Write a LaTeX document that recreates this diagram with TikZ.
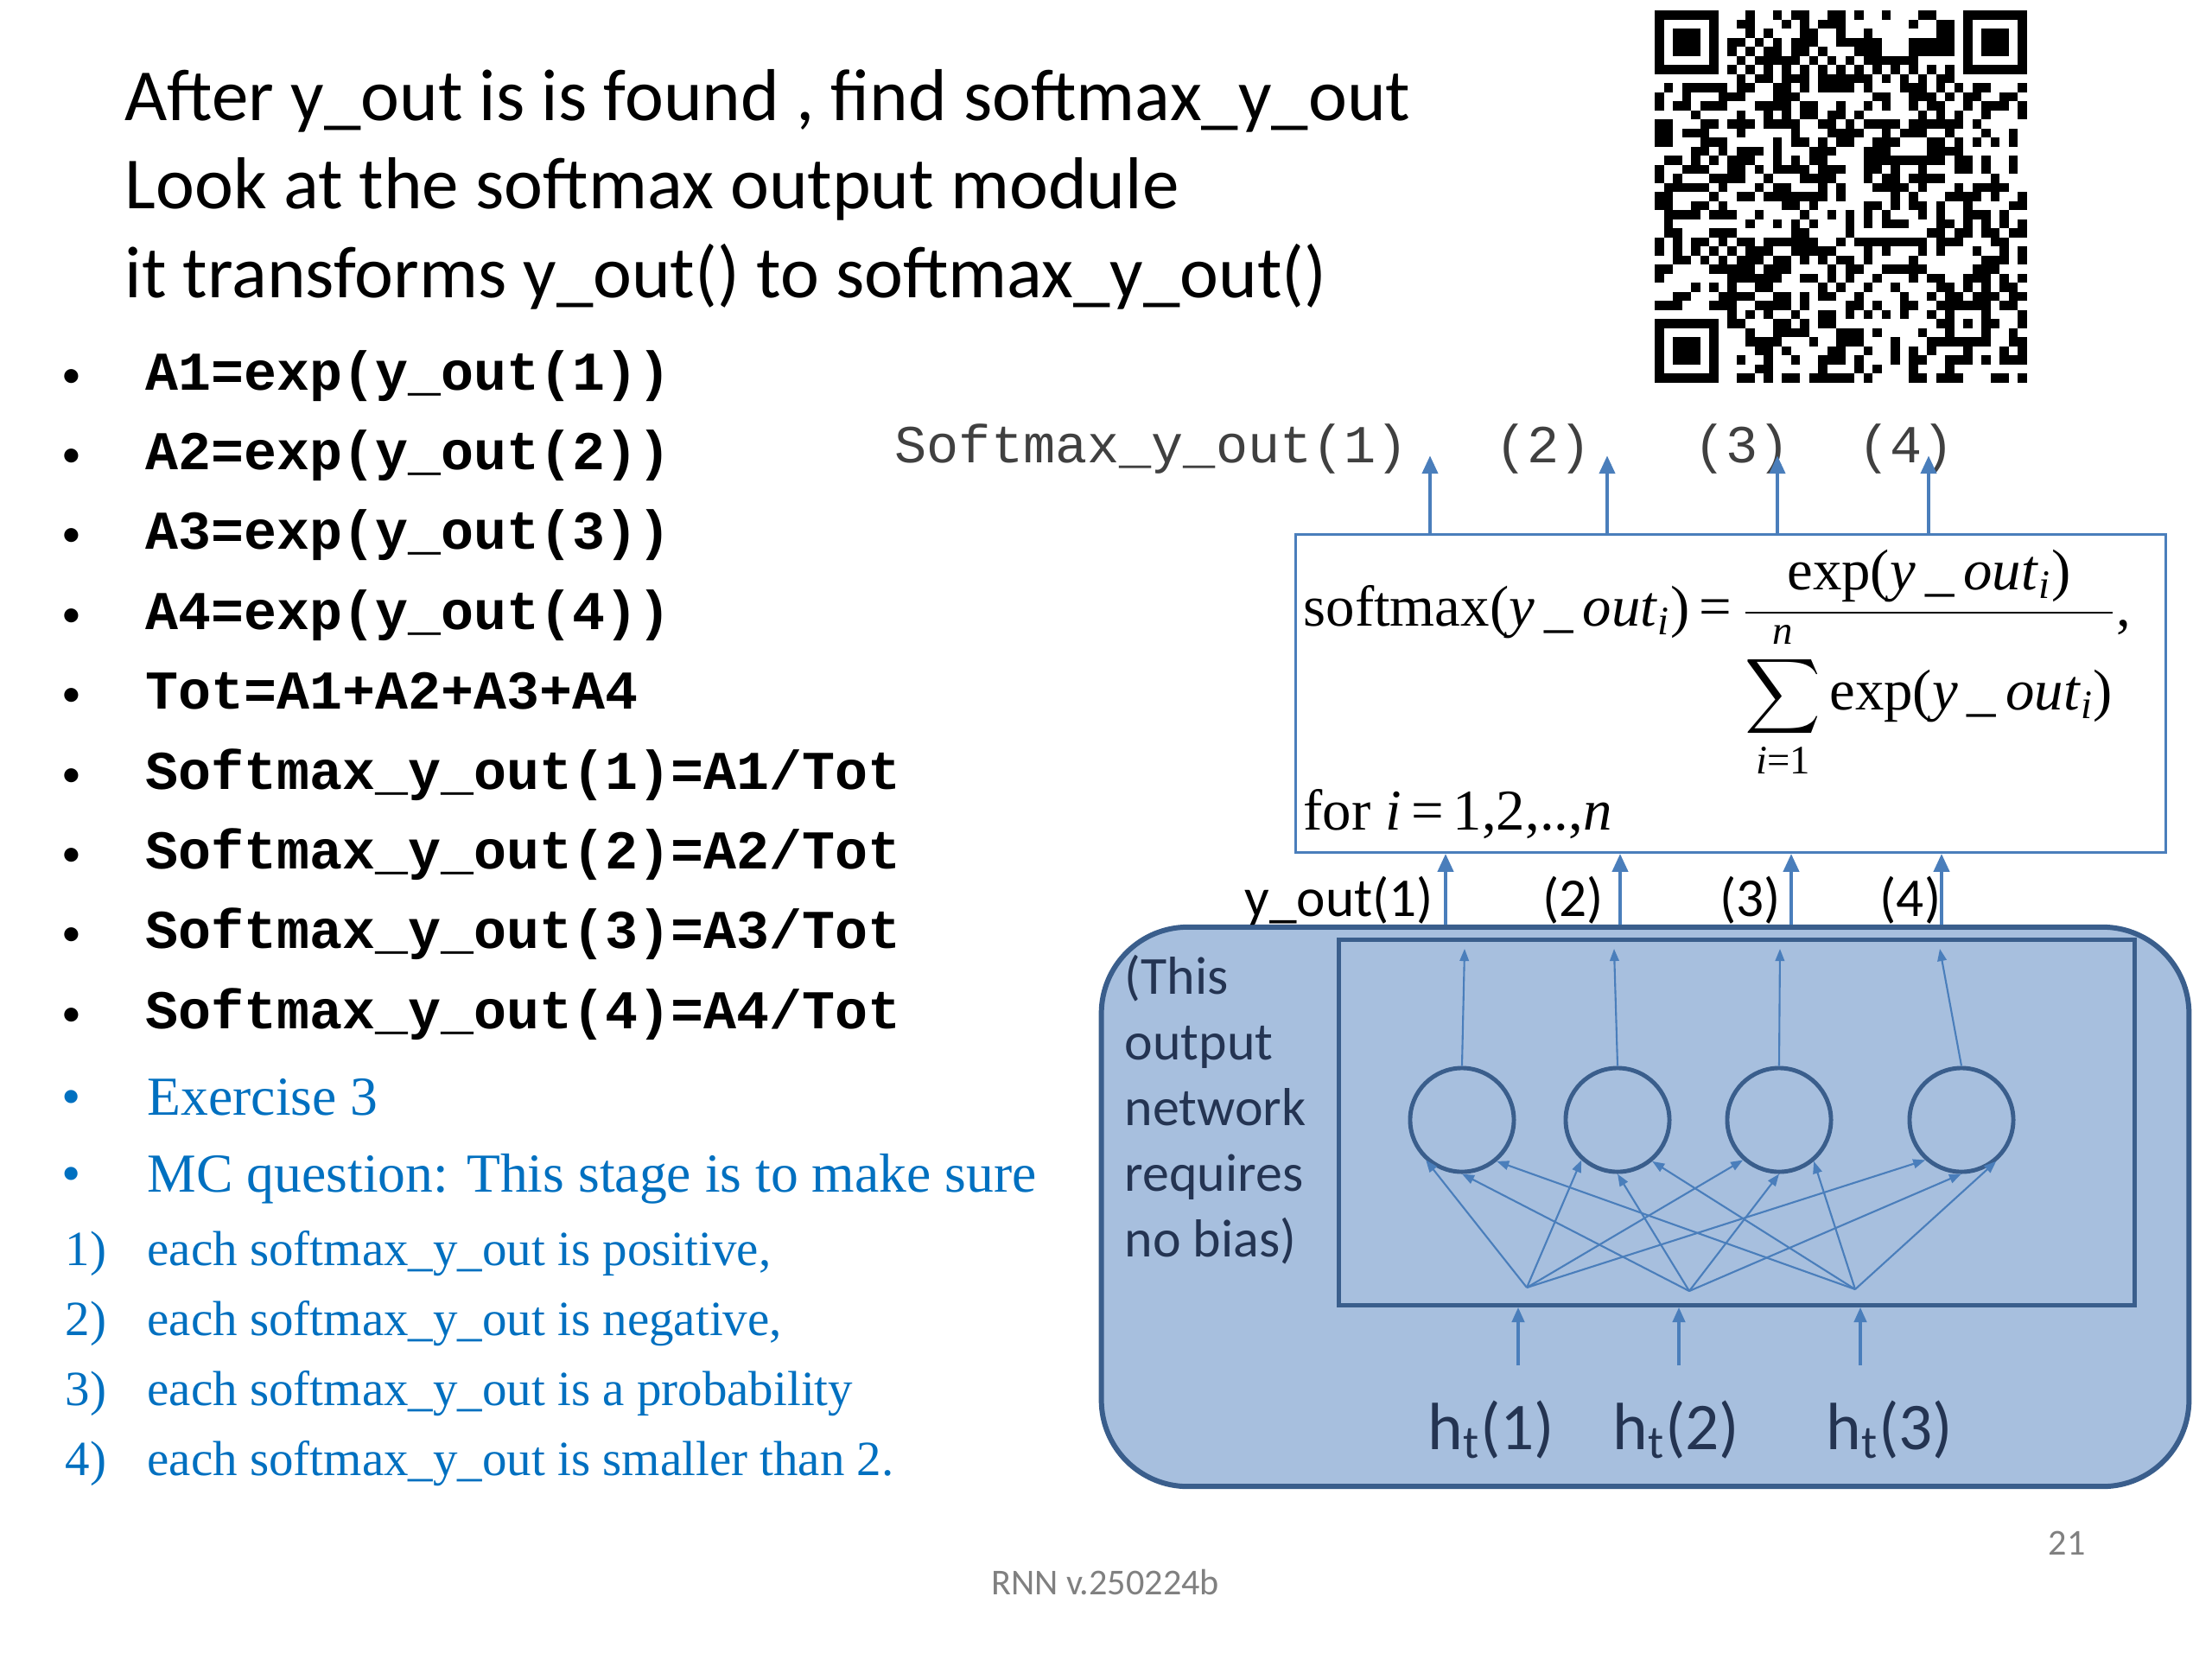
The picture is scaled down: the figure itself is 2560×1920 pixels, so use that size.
\documentclass[tikz,border=0pt]{standalone}
\usepackage{fontspec}
\usepackage{amsmath}
\setmainfont{Carlito}
\newfontfamily\tnr{Liberation Serif}
\newfontfamily\cour{Liberation Mono}
\usetikzlibrary{arrows.meta}
\usetikzlibrary{calc}

\definecolor{qblue}{RGB}{0,112,192}
\definecolor{arrowblue}{RGB}{74,126,187}
\definecolor{netfill}{RGB}{167,191,222}
\definecolor{netline}{RGB}{58,94,140}
\definecolor{nettext}{RGB}{36,52,82}
\definecolor{footgray}{RGB}{128,128,128}
\definecolor{labgray}{RGB}{64,64,64}

\newcommand{\youti}{\textit{y}\,\_\,\textit{out}\textsubscript{\textit{i}}}
\newcommand{\bigsigma}{\mathop{\displaystyle\sum}\limits_{\text{\textit{i}=1}}^{\text{\textit{n}}}}

\tikzset{
  titleline/.style={anchor=base west, inner sep=0, font=\fontsize{24.2}{29}\selectfont},
  codeline/.style={anchor=base west, inner sep=0, font={\cour\bfseries\fontsize{18}{22}\selectfont}},
  codebullet/.style={anchor=base, inner sep=0, font=\fontsize{13}{16}\selectfont},
  mcline/.style={anchor=base west, inner sep=0, text=qblue, font={\tnr\fontsize{18.1}{22}\selectfont}},
  mcbullet/.style={anchor=base, inner sep=0, text=qblue, font={\tnr\fontsize{18.1}{22}\selectfont}},
  itemline/.style={anchor=base west, inner sep=0, text=qblue, font={\tnr\fontsize{16.2}{20}\selectfont}},
  smlabel/.style={anchor=base west, inner sep=0, text=labgray, font={\cour\fontsize{17.6}{21}\selectfont}},
  eqtext/.style={anchor=base west, inner sep=0, font={\tnr\fontsize{19}{23}\selectfont}},
  yolabel/.style={anchor=base west, inner sep=0, font=\fontsize{18}{22}\selectfont},
  netword/.style={anchor=base west, inner sep=0, text=nettext, font=\fontsize{17.6}{21}\selectfont},
  hlabel/.style={anchor=base, inner sep=0, text=nettext, font=\fontsize{22}{26}\selectfont},
  footer/.style={anchor=base, inner sep=0, text=footgray, font=\fontsize{12}{14}\selectfont},
  netbox/.style={draw=netline, line width=1.7pt, fill=netfill, rounded corners=1cm},
  neuron/.style={circle, draw=netline, line width=1.4pt, minimum size=1.2cm, inner sep=0},
  outarrow/.style={draw=arrowblue, line width=1.4pt, -{Triangle[width=5pt,length=6pt]}},
  inarrow/.style={draw=arrowblue, line width=1.2pt, -{Triangle[width=4pt,length=5pt]}},
  fanarrow/.style={draw=arrowblue, line width=0.6pt, -{Triangle[width=3pt,length=4pt]}}
}

\begin{document}
\begin{tikzpicture}[x=0.01cm, y=-0.01cm]
\useasboundingbox (0,0) rectangle (2560,1920);
\fill[white] (0,0) rectangle (2560,1920);

\foreach \txt [count=\k from 0] in {{After y\_out is is found , find softmax\_y\_out},
  {Look at the softmax output module}, {it transforms y\_out() to softmax\_y\_out()}}
  \node[titleline] (title\k) at (144,{139+102.5*\k}) {\txt};

% qr code
\begin{scope}[shift={(1915,12)}]
\pgfmathsetseed{250224}
\foreach \r in {0,...,40}{
  \foreach \c in {0,...,40}{
    \pgfmathtruncatemacro\qrmask{((\r<8)&&(\c<8)) || ((\r<8)&&(\c>32)) || ((\r>32)&&(\c<8)) || ((\r>31)&&(\r<37)&&(\c>31)&&(\c<37)) || (\r==6) || (\c==6) ? 1 : 0}
    \pgfmathrandominteger{\qrbit}{0}{1}
    \ifnum\qrmask=0 \ifnum\qrbit=1 \fill (10.5*\c,10.5*\r) rectangle ++(10.8,10.8); \fi\fi
  }}
\foreach \c in {8,10,...,32}{
  \fill (10.5*\c,63) rectangle ++(10.8,10.8);
  \fill (63,10.5*\c) rectangle ++(10.8,10.8);
}
\foreach \fr/\fc in {0/0, 0/34, 34/0}{
  \fill (10.5*\fc,10.5*\fr) rectangle ++(73.5,73.5);
  \fill[white] (10.5*\fc+10.5,10.5*\fr+10.5) rectangle ++(52.5,52.5);
  \fill (10.5*\fc+21,10.5*\fr+21) rectangle ++(31.5,31.5);
}
\fill (336,336) rectangle ++(52.5,52.5);
\fill[white] (346.5,346.5) rectangle ++(31.5,31.5);
\fill (357,357) rectangle ++(10.5,10.5);
\end{scope}

\foreach \txt [count=\k from 0] in {A1=exp(y\_out(1)), A2=exp(y\_out(2)), A3=exp(y\_out(3)),
  A4=exp(y\_out(4)), Tot=A1+A2+A3+A4, Softmax\_y\_out(1)=A1/Tot, Softmax\_y\_out(2)=A2/Tot,
  Softmax\_y\_out(3)=A3/Tot, Softmax\_y\_out(4)=A4/Tot}{
  \node[codebullet] at (83,{448+92.4*\k}) {\textbullet};
  \node[codeline] (code\k) at (168,{451+92.4*\k}) {\txt};
}

\node[mcbullet] at (83,1290) {\textbullet};
\node[mcline] (ex) at (170,1290) {Exercise 3};
\node[mcbullet] at (83,1379) {\textbullet};
\node[mcline] (mcq) at (170,1379) {MC question: This stage is to make sure};
\foreach \txt [count=\k] in {{each softmax\_y\_out is positive,}, {each softmax\_y\_out is negative,},
  {each softmax\_y\_out is a probability}, {each softmax\_y\_out is smaller than 2.}}{
  \node[itemline] at (75,{1464+81.3*(\k-1)}) {\k)};
  \node[itemline] (ans\k) at (170,{1464+81.3*(\k-1)}) {\txt};
}

\node[footer] (ver) at (1279,1845) {RNN v.250224b};
\node[footer] (page) at (2392,1799) {21};

\begin{scope}[shift={(-5,0)}]
% softmax module
\node[draw=arrowblue, line width=0.9pt, fill=white, minimum width=10.06cm, minimum height=3.67cm] (smbox) at (2008,802.5) {};
\node[eqtext] (eq) at (1513,724) {softmax(\youti)\,=\,$\displaystyle\frac{\text{exp(\youti)}}{\bigsigma\text{exp(\youti)}}$,};
\node[eqtext] (range) at (1513,960) {for \textit{i}\,=\,1,2,..,\textit{n}};

\node[smlabel] (sm1) at (1040,535) {Softmax\_y\_out(1)};
\node[smlabel] (sm2) at (1735,535) {(2)};
\node[smlabel] (sm3) at (1965,535) {(3)};
\node[smlabel] (sm4) at (2155,535) {(4)};
\foreach \x [count=\i] in {1660,1865,2062,2237}{
  \coordinate (so\i) at (\x,527);
  \draw[outarrow] (smbox.north -| so\i) -- (so\i);
}

% output network
\node[netbox, minimum width=12.58cm, minimum height=6.47cm] (net) at (1909,1396.5) {};
\node[draw=netline, line width=1.4pt, minimum width=9.2cm, minimum height=4.22cm] (inner) at (2015,1299) {};

\node[yolabel] (yo1l) at (1445,1060) {y\_out(1)};
\node[yolabel] (yo2l) at (1790,1060) {(2)};
\node[yolabel] (yo3l) at (1995,1060) {(3)};
\node[yolabel] (yo4l) at (2180,1060) {(4)};
\foreach \x [count=\i] in {1678,1880,2078,2252}{
  \coordinate (yo\i) at (\x,1073);
  \draw[outarrow] (net.north -| yo\i) -- (smbox.south -| yo\i);
}

\foreach \w [count=\k from 0] in {{(This}, output, network, requires, {no bias)}}
  \node[netword] at (1306,{1150+76*\k}) {\w};

\foreach \x [count=\i] in {1697,1877,2064,2275}
  \node[neuron] (c\i) at (\x,1296) {};
\foreach \x [count=\i] in {1700,1873,2065,2250}{
  \coordinate (t\i) at (\x,1098);
  \draw[fanarrow] (c\i.north) -- (t\i);
}

\coordinate (s1) at (1772,1490);
\coordinate (s2) at (1960,1494);
\coordinate (s3) at (2152,1492);
\foreach \i in {1,...,4}
  \foreach \j/\a in {1/228,2/270,3/310}
    \draw[fanarrow] (s\j) -- (c\i.\a);

\foreach \x [count=\j] in {1762,1948,2158}{
  \coordinate (hin\j) at (\x,1580);
  \draw[inarrow] (hin\j) -- (inner.south -| hin\j);
}
\node[hlabel] (h1) at (1731,1677) {h\textsubscript{t}(1)};
\node[hlabel] (h2) at (1945,1677) {h\textsubscript{t}(2)};
\node[hlabel] (h3) at (2192,1677) {h\textsubscript{t}(3)};
\end{scope}
\end{tikzpicture}
\end{document}
